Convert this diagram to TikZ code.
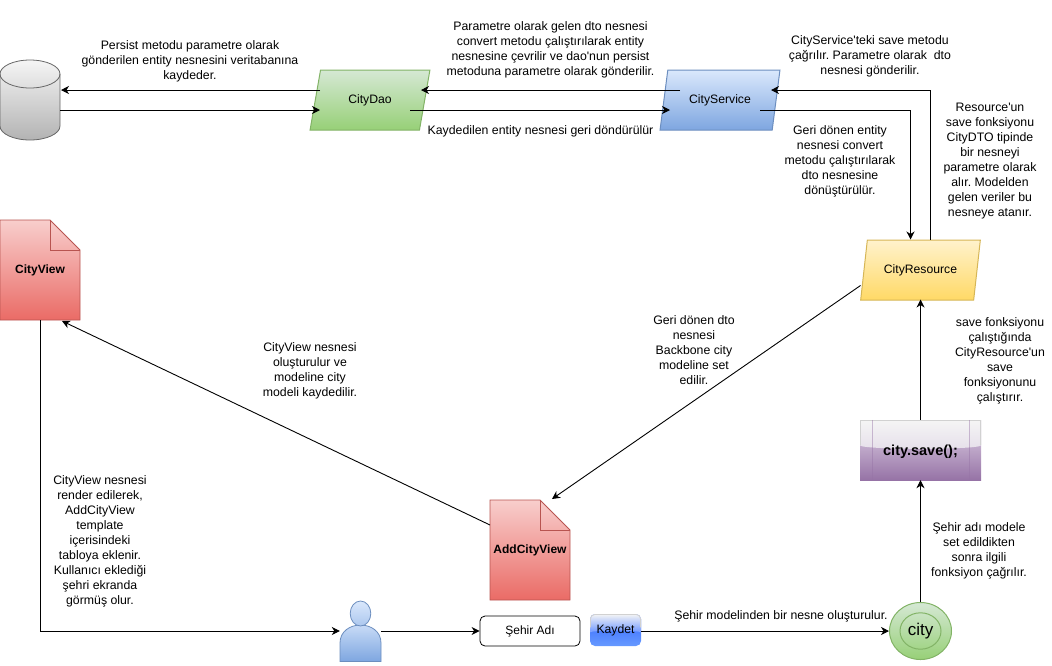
\documentclass[tikz,border=0pt]{standalone}
\usepackage{fontspec}
\setmainfont{Liberation Sans}
\usetikzlibrary{positioning}
\usetikzlibrary{calc}
\usetikzlibrary{shapes.geometric}
\usetikzlibrary{arrows.meta}
\usetikzlibrary{backgrounds}

\definecolor{greenline}{HTML}{82B366}
\definecolor{greentop}{HTML}{D5E8D4}
\definecolor{greenbot}{HTML}{97D077}
\definecolor{blueline}{HTML}{6C8EBF}
\definecolor{bluetop}{HTML}{DAE8FC}
\definecolor{bluebot}{HTML}{7EA6E0}
\definecolor{yellowline}{HTML}{D6B656}
\definecolor{yellowtop}{HTML}{FFF2CC}
\definecolor{yellowbot}{HTML}{FFD966}
\definecolor{redline}{HTML}{B85450}
\definecolor{redtop}{HTML}{F8CECC}
\definecolor{redbot}{HTML}{EA6B66}
\definecolor{graytop}{HTML}{F5F5F5}
\definecolor{graybot}{HTML}{B3B3B3}
\definecolor{purpletop}{HTML}{E1D5E7}
\definecolor{purplebot}{HTML}{9673A6}
\definecolor{purplegloss}{HTML}{E6DFEA}
\definecolor{kaydettop}{HTML}{3366FF}
\definecolor{kaydetbot}{HTML}{6699FF}
\definecolor{kaydetgloss}{HTML}{7FA3FF}

\tikzset{
  lbl/.style={inner sep=0pt, align=center, font=\fontsize{12.3}{15}\selectfont},
  flow/.style={line width=0.9pt, -{Stealth[length=8pt, width=8pt, inset=2.5pt]}},
  para/.style={trapezium, trapezium left angle=68, trapezium right angle=112, trapezium stretches=true,
    line width=1pt, minimum width=120pt, minimum height=60pt, inner sep=0pt, font=\fontsize{12.2}{15}\selectfont},
  doc/.style={inner sep=0pt, minimum width=80pt, minimum height=100pt, font=\fontsize{12}{15}\selectfont\bfseries},
  glossy/.style={path picture={
    \coordinate (nw) at (path picture bounding box.north west);
    \coordinate (ne) at (path picture bounding box.north east);
    \coordinate (sw) at (path picture bounding box.south west);
    \coordinate (se) at (path picture bounding box.south east);
    \shade [top color=white!96!black, bottom color=#1] (nw) -- (ne) -- ($(ne)!0.42!(se)$)
      .. controls ($(ne)!0.5!(se)$) and ($(nw)!0.5!(sw)$) .. ($(nw)!0.42!(sw)$) -- cycle;
    \draw [black!18, line width=1.6pt] ($(nw)!0.42!(sw)$) -- (nw) -- (ne) -- ($(ne)!0.42!(se)$);
  }}
}

\begin{document}
\frenchspacing
\begin{tikzpicture}[x=1pt, y=-1pt, on grid]
    \useasboundingbox (0,0) rectangle (1052,665);

    \node [inner sep=0pt, minimum width=60pt, minimum height=80pt] (db) at (30,100) {};
    \node [para, draw=greenline, top color=greentop, bottom color=greenbot] (dao) at (370,100) {CityDao};
    \node [para, draw=blueline, top color=bluetop, bottom color=bluebot, right=350pt of dao] (service) {CityService};
    \node [para, draw=yellowline, top color=yellowtop, bottom color=yellowbot] (resource) at (920.5,270) {CityResource};

    \node [doc] (cityview) at (40,270) {CityView};
    \node [doc] (addview) at (530,550) {AddCityView};

    \node [inner sep=0pt, minimum width=41pt, minimum height=61pt] (user) at (360.5,631) {};
    \node [draw, line width=0.8pt, rounded corners=5pt, inner sep=0pt, minimum width=100pt, minimum height=30pt, font=\fontsize{12}{15}\selectfont] (sehir) at (530,631) {Şehir Adı};
    \node [rounded corners=5pt, inner sep=0pt, minimum width=51pt, minimum height=32pt, top color=kaydettop, bottom color=kaydetbot, glossy=kaydetgloss, font=\fontsize{12.2}{15}\selectfont] (kaydet) at (615.5,630) {Kaydet};
    \node [ellipse, inner sep=0pt, line width=1pt, minimum width=62pt, minimum height=57pt, draw=greenline, top color=greentop, bottom color=greenbot, font=\fontsize{17}{20}\selectfont,
      path picture={\draw [line width=1pt, greenline] (path picture bounding box.center) ellipse (20.5 and 18.2);}] (city) at (920.5,631) {city};
    \node [inner sep=0pt, text height=13pt, text depth=3pt, minimum width=121pt, minimum height=60pt, top color=purpletop, bottom color=purplebot, glossy=purplegloss, font=\fontsize{14.5}{16}\selectfont\bfseries] (save) at (920.5,450) {city.save();};

    \begin{scope}[on background layer]
      \begin{scope}[shift={(db.center)}, line width=0.8pt]
        \shade [top color=graytop, bottom color=graybot] (-30,-26) arc [start angle=180, end angle=360, x radius=30, y radius=14] -- (30,26) arc [start angle=0, end angle=180, x radius=30, y radius=14] -- cycle;
        \draw [black!60] (-30,-26) arc [start angle=180, end angle=360, x radius=30, y radius=14] -- (30,26) arc [start angle=0, end angle=180, x radius=30, y radius=14] -- cycle;
        \draw [black!60] (-30,-26) arc [start angle=180, end angle=0, x radius=30, y radius=14];
      \end{scope}
      \foreach \doc in {cityview, addview} {
        \begin{scope}[shift={(\doc.center)}, line width=0.8pt]
          \shade [top color=redtop, bottom color=redbot] (-40,-50) -- (10,-50) -- (40,-20) -- (40,50) -- (-40,50) -- cycle;
          \draw [redline] (-40,-50) -- (10,-50) -- (40,-20) -- (40,50) -- (-40,50) -- cycle;
          \draw [redline] (10,-50) -- (10,-20) -- (40,-20);
        \end{scope}
      }
      \begin{scope}[shift={(user.center)}, line width=0.8pt]
        \shade [top color=bluetop!80!bluebot, bottom color=bluebot] (-20.5,30.5) -- (-20.5,12) .. controls (-20.5,0) and (-10,-6) .. (0,-6) .. controls (10,-6) and (20.5,0) .. (20.5,12) -- (20.5,30.5) -- cycle;
        \draw [blueline] (-20.5,30.5) -- (-20.5,12) .. controls (-20.5,0) and (-10,-6) .. (0,-6) .. controls (10,-6) and (20.5,0) .. (20.5,12) -- (20.5,30.5) -- cycle;
        \shade [top color=bluetop, bottom color=bluetop!50!bluebot] (0,-17.5) ellipse (10.3 and 12.5);
        \draw [blueline] (0,-17.5) ellipse (10.3 and 12.5);
      \end{scope}
    \end{scope}

    \draw [purplebot, opacity=0.45] ([xshift=12pt]save.north west) -- ([xshift=12pt]save.south west);
    \draw [purplebot, opacity=0.45] ([xshift=-12pt]save.north east) -- ([xshift=-12pt]save.south east);

    \node [lbl] (persisttxt) at (190,61) {Persist metodu parametre olarak\\gönderilen entity nesnesini veritabanına\\kaydeder.};
    \node [lbl] (converttxt) at (550.5,50) {Parametre olarak gelen dto nesnesi\\convert metodu çalıştırılarak entity\\nesnesine çevrilir ve dao\textquotesingle nun persist\\metoduna parametre olarak gönderilir.};
    \node [lbl] (returntxt) at (540.5,131) {Kaydedilen entity nesnesi geri döndürülür};
    \node [lbl] (calltxt) at (870,56) {CityService\textquotesingle teki save metodu\\çağrılır. Parametre olarak\ \ dto\\nesnesi gönderilir.};
    \node [lbl] (dtotxt) at (840,161) {Geri dönen entity\\nesnesi convert\\metodu çalıştırılarak\\dto nesnesine\\dönüştürülür.};
    \node [lbl] (paramtxt) at (990,161) {Resource\textquotesingle un\\save fonksiyonu\\CityDTO tipinde\\bir nesneyi\\parametre olarak\\alır. Modelden\\gelen veriler bu\\nesneye atanır.};
    \node [lbl] (backbonetxt) at (694,350) {Geri dönen dto\\nesnesi\\Backbone city\\modeline set\\edilir.};
    \node [lbl] (savetxt) at (1000,361) {save fonksiyonu\\çalıştığında\\CityResource\textquotesingle un\\save\\fonksiyonunu\\çalıştırır.};
    \node [lbl] (modeltxt) at (310,371) {CityView nesnesi\\oluşturulur ve\\modeline city\\modeli kaydedilir.};
    \node [lbl] (rendertxt) at (100,541) {CityView nesnesi\\render edilerek,\\AddCityView\\template\\içerisindeki\\tabloya eklenir.\\Kullanıcı eklediği\\şehri ekranda\\görmüş olur.};
    \node [lbl] (createtxt) at (781,616) {Şehir modelinden bir nesne oluşturulur.};
    \node [lbl] (settxt) at (979,551) {Şehir adı modele\\set edildikten\\sonra ilgili\\fonksiyon çağrılır.};

    \draw [flow] ([shift={(-50,-10)}]dao.center) -- ([shift={(31,-10)}]db.center);
    \draw [flow] ([shift={(30,10)}]db.center) -- ([shift={(-50,10)}]dao.center);
    \draw [flow] ([shift={(-40,-10)}]service.center) -- ([shift={(51,-10)}]dao.center);
    \draw [flow] ([shift={(40,10)}]dao.center) -- ([shift={(-50,10)}]service.center);
    \draw [flow] ([xshift=10pt]resource.north) |- ([shift={(51,-10)}]service.center);
    \draw [flow] ([shift={(40,10)}]service.center) -| ([xshift=-10pt]resource.north);
    \draw [flow] ([shift={(-60,15.5)}]resource.center) -- ([shift={(22,-51)}]addview.center);
    \draw [flow] ([shift={(-40,-25)}]addview.center) -- ([shift={(22,51)}]cityview.center);
    \draw [flow] (cityview.south) |- (user.west);
    \draw [flow] (user.east) -- (sehir.west);
    \draw [flow] (kaydet.east |- city.west) -- (city.west);
    \draw [flow] (city.north) -- (save.south);
    \draw [flow] (save.north) -- ([yshift=1pt]resource.south);
\end{tikzpicture}
\end{document}
